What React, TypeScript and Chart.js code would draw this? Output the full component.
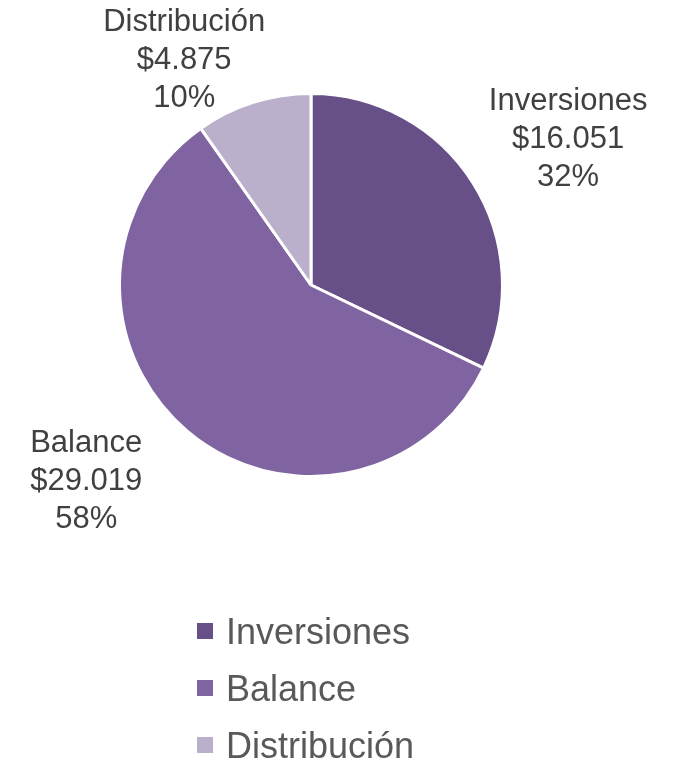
import React, { useEffect, useRef } from "react";
import { Chart, registerables } from "chart.js";

Chart.register(...registerables);

// ---- data ----
const categories = ["Inversiones", "Balance", "Distribución"];
const values = [16051, 29019, 4875];

// ---- styles ----
const sliceColors = ["#674F88", "#8064A2", "#BAB0CB"];
const FONT = '"Liberation Sans", Arial, Helvetica, sans-serif';
const LABEL_COLOR = "#404040";
const LEGEND_COLOR = "#595959";
// offset of each label's centre from the arc's outer mid point
const LABEL_NUDGE: [number, number][] = [
  [95, -46],
  [-101, 48],
  [-69, -44],
];

const fmtMoney = (v: number) =>
  "$" + Math.round(v).toString().replace(/\B(?=(\d{3})+(?!\d))/g, ".");

const labelPlugin = {
  id: "outsideLabels",
  afterDatasetsDraw(chart: any) {
    const ctx = chart.ctx as CanvasRenderingContext2D;
    const meta = chart.getDatasetMeta(0);
    const data = chart.data.datasets[0].data as number[];
    const total = data.reduce((a, b) => a + b, 0);
    ctx.save();
    ctx.font = `31px ${FONT}`;
    ctx.fillStyle = LABEL_COLOR;
    ctx.textAlign = "center";
    ctx.textBaseline = "alphabetic";
    meta.data.forEach((arc: any, i: number) => {
      const p = arc.getProps(["x", "y", "startAngle", "endAngle", "outerRadius"], true);
      const mid = (p.startAngle + p.endAngle) / 2;
      const cx = p.x + Math.cos(mid) * p.outerRadius + LABEL_NUDGE[i][0];
      const cy = p.y + Math.sin(mid) * p.outerRadius + LABEL_NUDGE[i][1];
      const lines = [
        chart.data.labels[i],
        fmtMoney(data[i]),
        Math.round((data[i] / total) * 100) + "%",
      ];
      const lh = 38;
      lines.forEach((t: string, k: number) => {
        ctx.fillText(t, cx, cy + 11 + (k - 1) * lh);
      });
    });
    ctx.restore();
  },
};

const legendPlugin = {
  id: "verticalLegend",
  afterDraw(chart: any) {
    const ctx = chart.ctx as CanvasRenderingContext2D;
    const colors = chart.data.datasets[0].backgroundColor as string[];
    const x0 = 197;
    const y0 = 631;
    const rowH = 57;
    const box = 16;
    ctx.save();
    ctx.font = `36px ${FONT}`;
    ctx.fillStyle = LEGEND_COLOR;
    ctx.textAlign = "left";
    ctx.textBaseline = "alphabetic";
    (chart.data.labels as string[]).forEach((lab, i) => {
      const cy = y0 + i * rowH;
      ctx.fillStyle = colors[i];
      ctx.fillRect(x0, cy - box / 2, box, box);
      ctx.fillStyle = LEGEND_COLOR;
      ctx.fillText(lab, x0 + 29, cy + 13);
    });
    ctx.restore();
  },
};

export default function App() {
  const ref = useRef<HTMLCanvasElement>(null);
  useEffect(() => {
    if (!ref.current) return;
    const chart = new Chart(ref.current, {
      type: "pie",
      data: {
        labels: categories,
        datasets: [
          {
            data: values,
            backgroundColor: sliceColors,
            borderColor: "#ffffff",
            borderWidth: 3,
          },
        ],
      },
      options: {
        responsive: false,
        animation: false,
        layout: { padding: { left: 118, right: 170, top: 92, bottom: 282 } },
        plugins: {
          legend: { display: false },
          tooltip: { enabled: false },
        },
      },
      plugins: [labelPlugin, legendPlugin],
    });
    return () => chart.destroy();
  }, []);
  return (
    <div style={{ position: "absolute", left: 0, top: 0, width: 674, height: 760, background: "#fff" }}>
      <canvas ref={ref} width={674} height={760} style={{ display: "block" }} />
    </div>
  );
}
